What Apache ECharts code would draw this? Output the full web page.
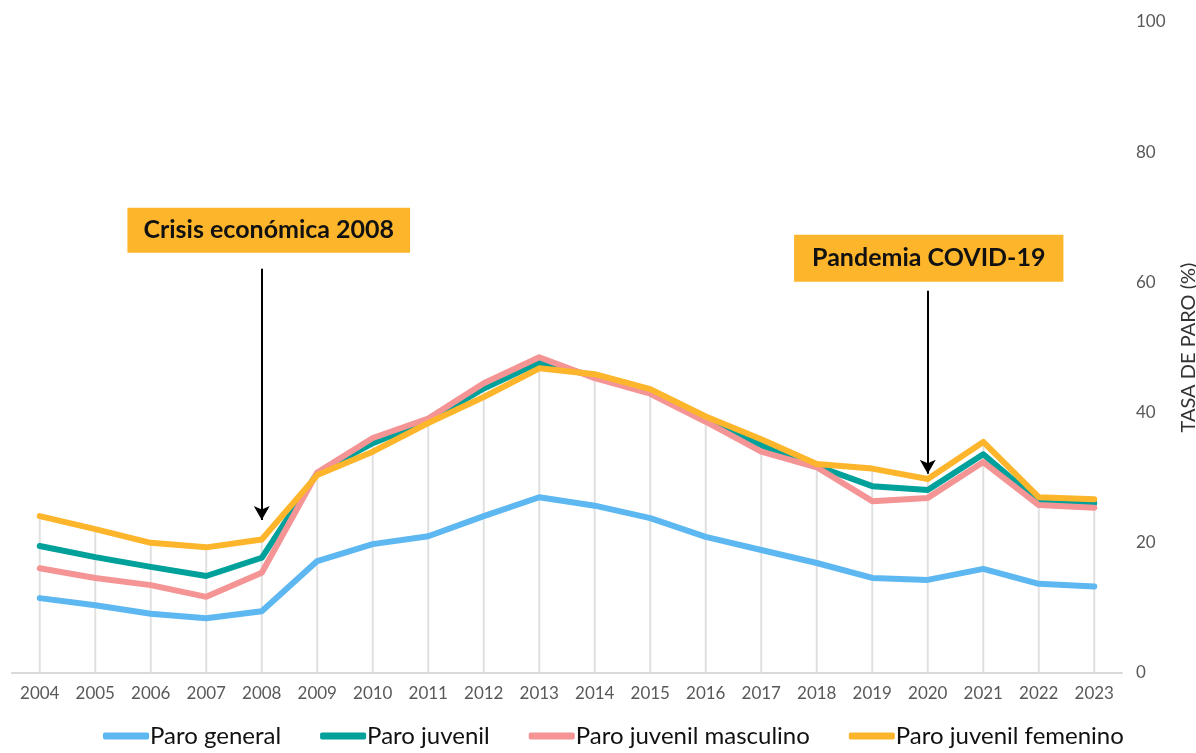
<!DOCTYPE html>
<html>
<head>
<meta charset="utf-8">
<script src="https://cdn.jsdelivr.net/npm/echarts@6/dist/echarts.min.js"></script>
<style>
html,body{margin:0;padding:0;background:#fff;}
#c{width:1196px;height:753px;}
</style>
</head>
<body>
<div id="c"></div>
<script>
const years = ['2004','2005','2006','2007','2008','2009','2010','2011','2012','2013','2014','2015','2016','2017','2018','2019','2020','2021','2022','2023'];
const paroGeneral = [11.5,10.4,9.1,8.4,9.5,17.2,19.8,21.0,24.1,27.0,25.7,23.8,20.9,18.9,16.9,14.6,14.3,16.0,13.7,13.3];
const paroJuvenil = [19.5,17.8,16.3,14.9,17.7,30.7,35.3,38.7,43.7,47.7,45.6,43.3,39.0,35.0,31.8,28.7,28.1,33.6,26.3,26.1];
const paroJuvenilMasculino = [16.1,14.6,13.5,11.7,15.4,30.8,36.1,39.1,44.5,48.5,45.3,42.9,38.6,34.0,31.6,26.4,26.9,32.4,25.8,25.4];
const paroJuvenilFemenino = [24.1,22.1,20.0,19.3,20.5,30.4,34.0,38.4,42.4,46.8,45.9,43.6,39.4,35.9,32.1,31.4,29.8,35.5,27.0,26.7];
const seriesNames = ['Paro general','Paro juvenil','Paro juvenil masculino','Paro juvenil femenino'];
const yTicks = [0,20,40,60,80,100];
const annotations = [
  {label:'Crisis económica 2008', year:'2008', boxValue:68.0, arrowFrom:62.1, arrowTo:23.5},
  {label:'Pandemia COVID-19', year:'2020', boxValue:63.7, arrowFrom:58.7, arrowTo:30.6}
];

const dropLines = years.map((y,i)=>Math.max(paroGeneral[i],paroJuvenil[i],paroJuvenilMasculino[i],paroJuvenilFemenino[i]));

const colors = ['#5DB7F0','#00A19B','#F49494','#FDB62C'];
const FONT = 'Lato, "DejaVu Sans", sans-serif';

const chart = echarts.init(document.getElementById('c'), null, {renderer:'canvas'});

function lineSeries(name, data, color, extra){
  return Object.assign({
    name: name, type:'line', data: data, symbol:'none',
    lineStyle:{width:6, color: color, cap:'round', join:'round'},
    itemStyle:{color: color},
    emphasis:{disabled:true},
    z: 3
  }, extra || {});
}

const option = {
  backgroundColor:'#fff',
  animation:false,
  textStyle:{fontFamily: FONT},
  grid:{left:12, right:74, top:22, bottom:80, containLabel:false, outerBoundsMode:'none'},
  legend:{
    data: seriesNames,
    bottom: 0,
    left: 98,
    icon: 'roundRect',
    itemWidth: 46,
    itemHeight: 7,
    itemGap: 39,
    textStyle:{fontSize:24, color:'#111', fontFamily: FONT, padding:[0,0,0,-4]}
  },
  xAxis:{
    type:'category',
    data: years,
    boundaryGap: true,
    axisLine:{show:true, lineStyle:{color:'#d9d9d9', width:2}},
    axisTick:{show:false},
    axisLabel:{color:'#595959', fontSize:17, margin:12, fontFamily: FONT},
    splitLine:{show:false}
  },
  yAxis:{
    type:'value',
    position:'right',
    min:0, max:100, interval:20,
    axisLine:{show:false},
    axisTick:{show:false},
    splitLine:{show:false},
    axisLabel:{color:'#595959', fontSize:17, margin:14, fontFamily: FONT,
      formatter: v => yTicks.indexOf(v) >= 0 ? String(v) : ''},
    name:'TASA DE PARO (%)',
    nameLocation:'middle',
    nameRotate:90,
    nameGap:57,
    nameTextStyle:{color:'#333', fontSize:20, fontFamily: FONT}
  },
  series:[
    {
      name:'drop', type:'bar', data: dropLines, barWidth:2,
      itemStyle:{color:'#e0e0e0'}, emphasis:{disabled:true}, z:1, silent:true
    },
    lineSeries(seriesNames[0], paroGeneral, colors[0]),
    lineSeries(seriesNames[1], paroJuvenil, colors[1]),
    lineSeries(seriesNames[2], paroJuvenilMasculino, colors[2]),
    lineSeries(seriesNames[3], paroJuvenilFemenino, colors[3], {
      markLine:{
        silent:true,
        symbol:['none','arrow'],
        symbolSize:[12,14],
        label:{show:false},
        lineStyle:{color:'#000', width:2, type:'solid'},
        data: annotations.map(a => [
          {coord:[a.year, a.arrowFrom]},
          {coord:[a.year, a.arrowTo]}
        ]),
        z: 5
      },
      markPoint:{
        silent:true,
        symbol:'rect',
        symbolSize:0,
        data: annotations.map((a,i) => ({
          coord:[a.year, a.boxValue],
          label:{
            show:true,
            formatter: a.label,
            position:'inside',
            offset: i === 0 ? [7,0] : [1,0],
            backgroundColor:'#FDB62C',
            color:'#111',
            fontWeight:'bold',
            fontSize:25,
            fontFamily: FONT,
            padding: i === 0 ? [10,16,10,16] : [11,18,11,18]
          }
        }))
      }
    })
  ]
};
chart.setOption(option);
</script>
</body>
</html>
